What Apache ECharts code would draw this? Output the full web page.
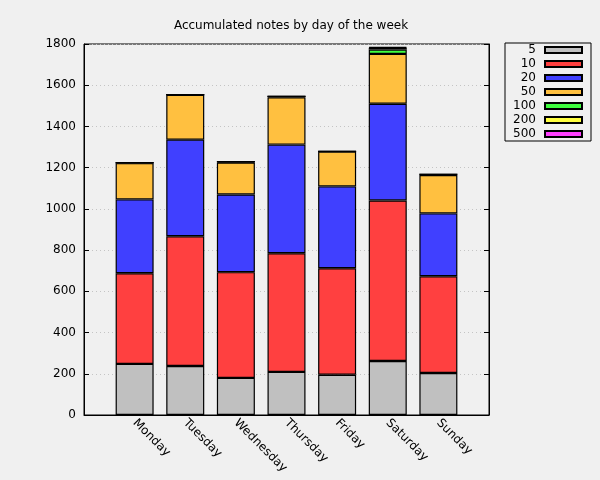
<!DOCTYPE html>
<html>
<head>
<meta charset="utf-8">
<script src="https://cdn.jsdelivr.net/npm/echarts@6/dist/echarts.min.js"></script>
<style>html,body{margin:0;padding:0;background:#f0f0f0;}#c{width:600px;height:480px;}</style>
</head>
<body>
<div id="c"></div>
<script>
const days = ['Monday', 'Tuesday', 'Wednesday', 'Thursday', 'Friday', 'Saturday', 'Sunday'];
const seriesNames = ['5', '10', '20', '50', '100', '200', '500'];
const v5   = [248, 238, 180, 209, 195, 262, 204];
const v10  = [440, 629, 513, 576, 517, 779, 469];
const v20  = [358, 469, 377, 527, 397, 469, 305];
const v50  = [176, 218, 155, 230, 169, 242, 186];
const v100 = [2, 0, 4, 4, 1, 21, 4];
const v200 = [0, 0, 0, 0, 0, 9, 0];
const v500 = [1, 2, 1, 0, 1, 3, 0];
const yTicks = [0, 200, 400, 600, 800, 1000, 1200, 1400, 1600, 1800];

const values = [v5, v10, v20, v50, v100, v200, v500];
const colors = ['#c0c0c0', '#ff4040', '#4040ff', '#ffc040', '#40ff40', '#ffff40', '#ff40ff'];
const font = 'DejaVu Sans';
// one empty slot on each side of the week, as in the original plot
const cats = [''].concat(days, ['']);

const chart = echarts.init(document.getElementById('c'));
chart.setOption({
  backgroundColor: '#f0f0f0',
  animation: false,
  title: {
    text: 'Accumulated notes by day of the week',
    left: 286, top: 15, textAlign: 'center',
    textStyle: {fontSize: 12, fontWeight: 'normal', color: '#000', fontFamily: font}
  },
  legend: {
    orient: 'vertical',
    left: 505, top: 43,
    align: 'right',
    icon: 'rect',
    itemWidth: 37, itemHeight: 6,
    itemGap: 0,
    padding: [0, 8, 0, 3],
    borderColor: '#000', borderWidth: 1,
    data: seriesNames,
    formatter: n => '{a|' + n + '}',
    textStyle: {
      fontFamily: font, fontSize: 12, color: '#000', lineHeight: 14,
      rich: {a: {width: 28, align: 'right', padding: [0, 4, 0, 0], fontFamily: font, fontSize: 12, lineHeight: 14}}
    }
  },
  grid: {left: 84, right: 111, top: 44, bottom: 65, show: true, borderColor: '#000', borderWidth: 1, backgroundColor: 'transparent'},
  xAxis: {
    type: 'category', data: cats, boundaryGap: false,
    axisLine: {show: true, lineStyle: {color: '#000'}},
    axisTick: {show: false},
    splitLine: {show: false},
    axisLabel: {
      rotate: -45, margin: 6, fontSize: 12, color: '#000', fontFamily: font, interval: 0
    }
  },
  yAxis: [{
    type: 'value', min: yTicks[0], max: yTicks[yTicks.length - 1], interval: 200,
    axisLine: {show: true, lineStyle: {color: '#000'}},
    axisTick: {show: true, inside: true, length: 5, lineStyle: {color: '#000'}},
    splitLine: {show: true, lineStyle: {color: '#c4c4c4', type: [1, 3], width: 1}},
    axisLabel: {fontSize: 12, color: '#000', fontFamily: font, margin: 8, formatter: v => String(v)}
  }, {
    type: 'value', position: 'right', min: yTicks[0], max: yTicks[yTicks.length - 1], interval: 200,
    axisLine: {show: true, lineStyle: {color: '#000'}},
    axisTick: {show: true, inside: true, length: 5, lineStyle: {color: '#000'}},
    splitLine: {show: false},
    axisLabel: {show: false}
  }],
  series: seriesNames.map((name, k) => ({
    name: name,
    type: 'bar',
    stack: 'total',
    barWidth: 38,
    data: ['-'].concat(values[k], ['-']),
    itemStyle: {color: colors[k], borderColor: '#000', borderWidth: 1.2}
  }))
});
</script>
</body>
</html>
